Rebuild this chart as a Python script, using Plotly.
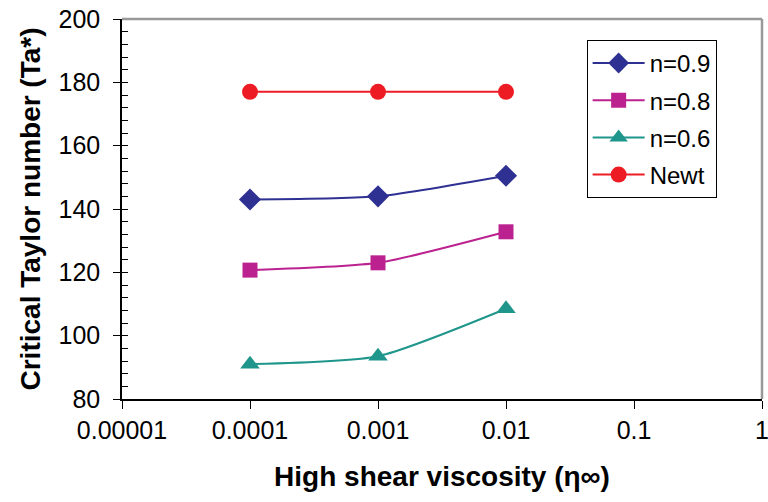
import plotly.graph_objects as go

x_vals = [0.0001, 0.001, 0.01]
n09 = [143.0, 144.0, 150.5]
n08 = [120.7, 123.0, 132.8]
n06 = [91.0, 93.5, 108.5]
newt = [177.0, 177.0, 177.0]

series = [
    ("n=0.9", n09, "#2E3192", "diamond", 17),
    ("n=0.8", n08, "#BB2290", "square", 15),
    ("n=0.6", n06, "#1F968B", "triangle-up", 17),
    ("Newt", newt, "#ED1C24", "circle", 16),
]

x_tickvals = [0.00001, 0.0001, 0.001, 0.01, 0.1, 1]
x_ticktext = ["0.00001", "0.0001", "0.001", "0.01", "0.1", "1"]

FONT = "Liberation Sans, Arial, sans-serif"

fig = go.Figure()
for i, (name, ys, color, sym, sz) in enumerate(series):
    fig.add_trace(go.Scatter(
        x=x_vals, y=ys, name=name, mode="lines+markers",
        line=dict(color=color, width=2, shape="spline", smoothing=0.6),
        marker=dict(symbol=sym, size=sz, color=color),
        legendgroup=f"g{i}",
    ))

# invisible trace on the overlay axis so its inside ticks render
fig.add_trace(go.Scatter(x=x_vals, y=newt, yaxis="y2", mode="markers",
                         marker=dict(opacity=0), showlegend=False,
                         hoverinfo="skip"))

fig.update_layout(
    width=768, height=502,
    margin=dict(l=122, r=6, t=19, b=103, autoexpand=False),
    paper_bgcolor="white", plot_bgcolor="white",
    font=dict(family=FONT, size=25, color="black"),
    showlegend=True,
    legend=dict(
        x=0.726, y=0.945, xanchor="left", yanchor="top",
        bordercolor="black", borderwidth=1, bgcolor="white",
        font=dict(size=24), tracegroupgap=3, itemwidth=52,
    ),
    yaxis2=dict(
        overlaying="y", anchor="x", range=[80, 200], dtick=20, side="left",
        ticks="inside", ticklen=6, tickcolor="black", tickwidth=1,
        showticklabels=False, showline=False, showgrid=False, zeroline=False,
    ),
)

fig.update_xaxes(
    type="log", range=[-5, 0],
    tickvals=x_tickvals, ticktext=x_ticktext,
    ticks="outside", ticklen=8, tickcolor="black", tickwidth=1,
    tickfont=dict(size=25), ticklabeloverflow="allow",
    showline=True, linecolor="black", linewidth=1.5,
    showgrid=False, zeroline=False,
    title=dict(text="<b>High shear viscosity (η∞)</b>", font=dict(size=28), standoff=24),
    automargin=False,
)
fig.update_layout(yaxis=dict(
    range=[80, 200], dtick=20,
    ticks="outside", ticklen=7, tickcolor="black", tickwidth=1,
    minor=dict(dtick=4, ticks="inside", ticklen=6, tickcolor="black", tickwidth=1),
    tickfont=dict(size=25), ticklabelstandoff=8,
    showline=True, linecolor="black", linewidth=1.5,
    showgrid=False, zeroline=False,
    title=dict(text="<b>Critical Taylor number (Ta*)</b>", font=dict(size=28), standoff=10),
    automargin=False,
))

# gray top/right frame
fig.add_shape(type="line", xref="paper", yref="paper", x0=0, x1=1, y0=1, y1=1,
              line=dict(color="#999999", width=2.5))
fig.add_shape(type="line", xref="paper", yref="paper", x0=1, x1=1, y0=0, y1=1,
              line=dict(color="#999999", width=2.5))

fig.write_html("out.html", config={"displayModeBar": False},
               post_script="document.body.style.margin='0';")
